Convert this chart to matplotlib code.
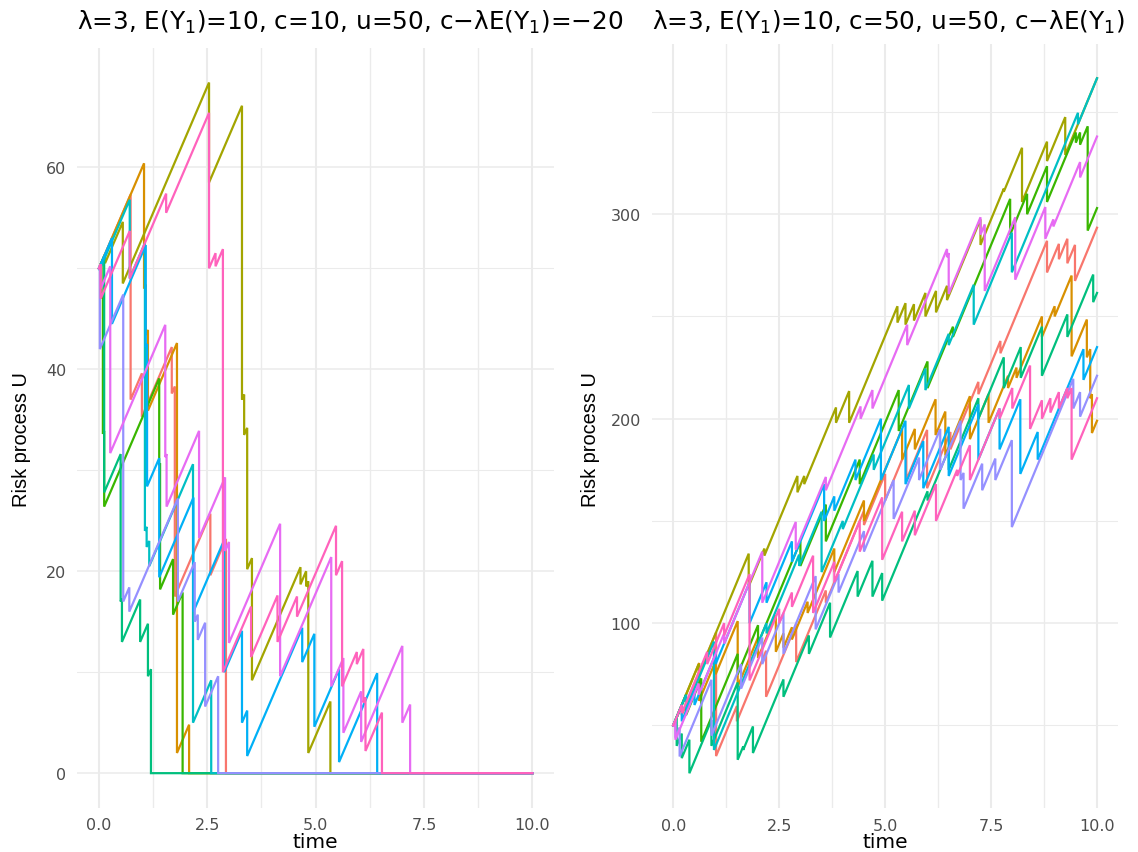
import numpy as np
import matplotlib
matplotlib.use("Agg")
import matplotlib.pyplot as plt
from matplotlib.ticker import FixedLocator, FixedFormatter


# =========================================================
# Data (jump times and level right after each claim)
# =========================================================

COLORS = ["#F8766D", "#D89000", "#A3A500", "#39B600", "#00BF7D",
          "#00BFC4", "#00B0F6", "#9590FF", "#E76BF3", "#FF62BC"]

U0 = 50
T_END = 10.0

# left panel: c = 10 (ruin -> level 0)
LEFT_C = 10
LEFT_TIMES = [
    [0.73, 0.99, 1.68, 1.75, 2.57, 2.93],
    [1.04, 1.08, 1.13, 1.8, 2.08],
    [0.14, 0.55, 2.54, 3.3, 3.35, 3.42, 3.53, 4.65, 4.78, 4.83, 5.34],
    [0.06, 0.09, 0.12, 1.39, 1.41, 1.71, 1.93],
    [0.12, 0.5, 0.53, 0.95, 1.13, 1.2],
    [0.01, 0.71, 1.06, 1.1, 1.16, 2.17, 2.59],
    [0.3, 1.08, 1.11, 1.39, 2.18, 2.89, 3.3, 3.42, 4.69, 4.97, 5.54, 6.42],
    [0.02, 0.56, 0.7, 1.82, 2.21, 2.28, 2.45, 2.75],
    [0.04, 0.26, 1.53, 1.56, 2.31, 2.91, 3.0, 4.18, 5.36, 5.64, 6.05, 7.0, 7.18],
    [0.04, 0.71, 1.55, 2.54, 2.69, 2.86, 3.51, 4.12, 4.57, 5.47, 5.61, 5.95,
     6.1, 6.15, 6.53],
]
LEFT_LEVELS = [
    [37, 35.3, 37.6, 17.5, 19.6, 0],
    [48, 43.4, 35.9, 2, 0],
    [50.5, 48.5, 58.5, 37, 33.5, 20.2, 9.2, 18.7, 18.5, 2, 0],
    [47, 33.6, 26.4, 30.5, 18.2, 15.7, 0],
    [27.8, 17, 13, 13, 9.6, 0],
    [49.8, 49, 24, 22.4, 20.5, 5, 0],
    [44.5, 42.2, 28.4, 19.4, 16, 10, 5, 1.7, 11, 4.6, 1.1, 0],
    [42, 17, 16, 17, 15, 13.2, 6.6, 0],
    [48, 31.7, 31.3, 26.4, 23.3, 22, 12.9, 9.6, 8.6, 4, 3.1, 5, 0],
    [47, 49, 55.5, 50, 50.2, 10, 11.5, 13, 15.5, 19.6, 8.6, 10.8, 7, 2.2, 0],
]

# right panel: c = 50
RIGHT_C = 50
RIGHT_TIMES = [
    [0.2, 1.01, 1.5, 2.19, 2.9, 3.6, 4.5, 5.0, 5.5, 5.99, 6.54, 7.2, 7.72,
     8.82, 9.1, 9.3, 9.48],
    [0.61, 1.0, 1.52, 2.0, 2.42, 2.6, 2.8, 3.17, 3.8, 4.5, 5.4, 5.7, 6.19,
     6.42, 7.0, 7.44, 7.9, 8.1, 8.7, 9.0, 9.4, 9.76, 9.84, 9.88],
    [0.6, 1.78, 2.15, 2.93, 3.09, 3.84, 4.15, 5.29, 5.48, 5.68, 5.95, 6.2,
     6.46, 7.25, 7.8, 8.23, 8.82, 9.25],
    [0.3, 0.66, 1.52, 2.0, 3.0, 3.6, 4.4, 5.32, 6.0, 6.6, 7.95, 8.35, 8.82,
     9.5, 9.6, 9.78],
    [0.08, 0.2, 0.38, 0.9, 1.52, 1.65, 1.88, 2.6, 3.2, 3.7, 4.35, 4.7, 4.93,
     6.0, 6.5, 7.2, 7.8, 8.2, 8.7, 9.3, 9.91],
    [0.3, 0.96, 2.2, 2.97, 3.5, 4.0, 4.73, 5.56, 5.95, 6.5, 7.09, 7.99, 9.55],
    [0.2, 0.5, 1.0, 1.8, 2.2, 2.8, 3.56, 3.8, 4.3, 4.9, 5.48, 5.9, 6.5, 7.2,
     7.7, 8.19, 8.6, 9.68],
    [0.05, 0.15, 0.9, 1.6, 2.1, 2.6, 3.36, 3.9, 4.5, 5.2, 5.8, 6.3, 6.78,
     6.85, 7.29, 7.6, 7.99, 9.44, 9.6],
    [0.05, 0.6, 1.2, 2.1, 2.89, 3.6, 4.42, 4.7, 5.52, 6.46, 6.5, 7.25, 7.35,
     8.07, 8.78, 8.97, 9.6],
    [0.2, 0.8, 1.2, 1.8, 2.5, 2.8, 3.3, 3.8, 4.4, 4.93, 5.4, 5.7, 6.2, 6.7,
     7.0, 7.7, 8.0, 8.42, 8.7, 8.9, 9.1, 9.3, 9.4],
]
RIGHT_LEVELS = [
    [55, 35, 52, 64, 81, 110, 148, 160, 170, 166, 185, 212, 232, 271.5, 278,
     276, 267.4],
    [62, 75, 69, 83, 86, 88, 92, 105, 125, 150, 180, 185, 192, 182, 190, 198,
     215, 220, 240, 250, 230.5, 230, 210, 193],
    [75, 118, 133, 164, 168, 198, 198, 247, 246, 248, 250, 252, 258, 285, 311,
     306, 326, 329],
    [55, 42, 75, 90, 128, 140, 168, 194, 215, 240, 290, 300, 306, 335, 334,
     292],
    [40, 34, 26.6, 40, 33.2, 38, 36.5, 64, 85, 93, 113, 113, 111, 160, 175,
     200, 215, 220, 221, 240, 257],
    [58, 38, 95, 128, 125, 146, 175, 205, 214, 236, 246, 271.6, 344],
    [52, 60, 80, 100, 110, 130, 150, 155, 170, 170, 168, 166, 172, 180, 185,
     173, 180, 219],
    [44, 34.8, 45, 68, 80, 85, 97, 115, 135, 151, 170, 175, 170, 156, 165, 170,
     147, 205, 201],
    [43, 65, 90, 110, 136, 165, 200, 205, 236, 279, 261, 290, 262.5, 268, 288,
     294, 318],
    [56, 80, 94, 72, 100, 108, 105, 120, 135, 131, 140, 143, 150, 172, 170,
     200, 205, 195, 200, 203, 205, 210, 180],
]

LEFT_TITLE = "λ=3, E(Y$_1$)=10, c=10, u=50, c−λE(Y$_1$)=−20"
# the reference only shows this much of the right title (cut at the edge)
RIGHT_TITLE = "λ=3, E(Y$_1$)=10, c=50, u=50, c−λE(Y$_1$)"

X_TICKS = [0, 2.5, 5, 7.5, 10]
X_TICK_LABELS = ["0.0", "2.5", "5.0", "7.5", "10.0"]
X_MINOR = [1.25, 3.75, 6.25, 8.75]
LEFT_Y_TICKS = [0, 20, 40, 60]
LEFT_Y_MINOR = [10, 30, 50]
RIGHT_Y_TICKS = [100, 200, 300]
RIGHT_Y_MINOR = [50, 150, 250, 350]


# =========================================================
# Helpers
# =========================================================

def build_path(times, levels, u, c):
    ts, us = [0.0], [float(u)]
    t_prev, prev = 0.0, float(u)
    for t, after in zip(times, levels):
        pre = prev + c * (t - t_prev)
        after = min(after, pre)
        ts += [t, t]
        us += [pre, after]
        t_prev, prev = t, after
    ts.append(T_END)
    us.append(0.0 if prev <= 0 else prev + c * (T_END - t_prev))
    return np.array(ts), np.array(us)


def style_axes(ax, y_ticks, y_minor):
    for s in ax.spines.values():
        s.set_visible(False)
    ax.set_axisbelow(True)
    ax.xaxis.set_major_locator(FixedLocator(X_TICKS))
    ax.xaxis.set_major_formatter(FixedFormatter(X_TICK_LABELS))
    ax.xaxis.set_minor_locator(FixedLocator(X_MINOR))
    ax.yaxis.set_major_locator(FixedLocator(y_ticks))
    ax.yaxis.set_minor_locator(FixedLocator(y_minor))
    ax.xaxis.grid(True, which="major", color="#EBEBEB", lw=1.5)
    ax.xaxis.grid(True, which="minor", color="#EBEBEB", lw=1.0)
    ax.yaxis.grid(True, which="major", color="#EBEBEB", lw=1.1)
    ax.yaxis.grid(True, which="minor", color="#EBEBEB", lw=0.75)
    ax.tick_params(which="both", length=0, labelsize=11.5,
                   labelcolor="#4D4D4D")
    ax.tick_params(axis="x", pad=7)
    ax.tick_params(axis="y", pad=8)
    ax.set_xlim(-0.5, 10.5)


def draw_panel(ax, times_list, levels_list, c):
    all_u = []
    for times, levels, color in zip(times_list, levels_list, COLORS):
        ts, us = build_path(times, levels, U0, c)
        ax.plot(ts, us, color=color, lw=1.6, solid_joinstyle="miter")
        all_u.append(us)
    all_u = np.concatenate(all_u)
    lo, hi = all_u.min(), all_u.max()
    pad = 0.05 * (hi - lo)
    ax.set_ylim(lo - pad, hi + pad)


# =========================================================
# Figure
# =========================================================

plt.rcParams["font.family"] = ["DejaVu Sans"]
plt.rcParams["mathtext.default"] = "regular"

fig = plt.figure(figsize=(11.38, 8.53), dpi=100)
W, H = 1138.0, 853.0

ax_l = fig.add_axes([77.3 / W, 1 - 808.7 / H, 476.7 / W, 759.7 / H])
ax_r = fig.add_axes([652.1 / W, 1 - 809.0 / H, 466.1 / W, 764.5 / H])

draw_panel(ax_l, LEFT_TIMES, LEFT_LEVELS, LEFT_C)
style_axes(ax_l, LEFT_Y_TICKS, LEFT_Y_MINOR)
draw_panel(ax_r, RIGHT_TIMES, RIGHT_LEVELS, RIGHT_C)
style_axes(ax_r, RIGHT_Y_TICKS, RIGHT_Y_MINOR)

for ax, x0, title, ylab_x in [(ax_l, 77.3, LEFT_TITLE, 22),
                              (ax_r, 652.1, RIGHT_TITLE, 590)]:
    fig.text(x0 / W, 1 - 22 / H, title, ha="left", va="center",
             fontsize=17.8, color="black")
    fig.text(ylab_x / W, 1 - 440 / H, "Risk process U", rotation=90,
             ha="center", va="center", fontsize=14.4, color="black",
             family=["Liberation Sans Narrow", "Liberation Sans"])
    bb = ax.get_position()
    fig.text((bb.x0 + bb.x1) / 2, 1 - 843 / H, "time", ha="center",
             va="center", fontsize=14.5, color="black")

fig.savefig("out.png", dpi=100)
